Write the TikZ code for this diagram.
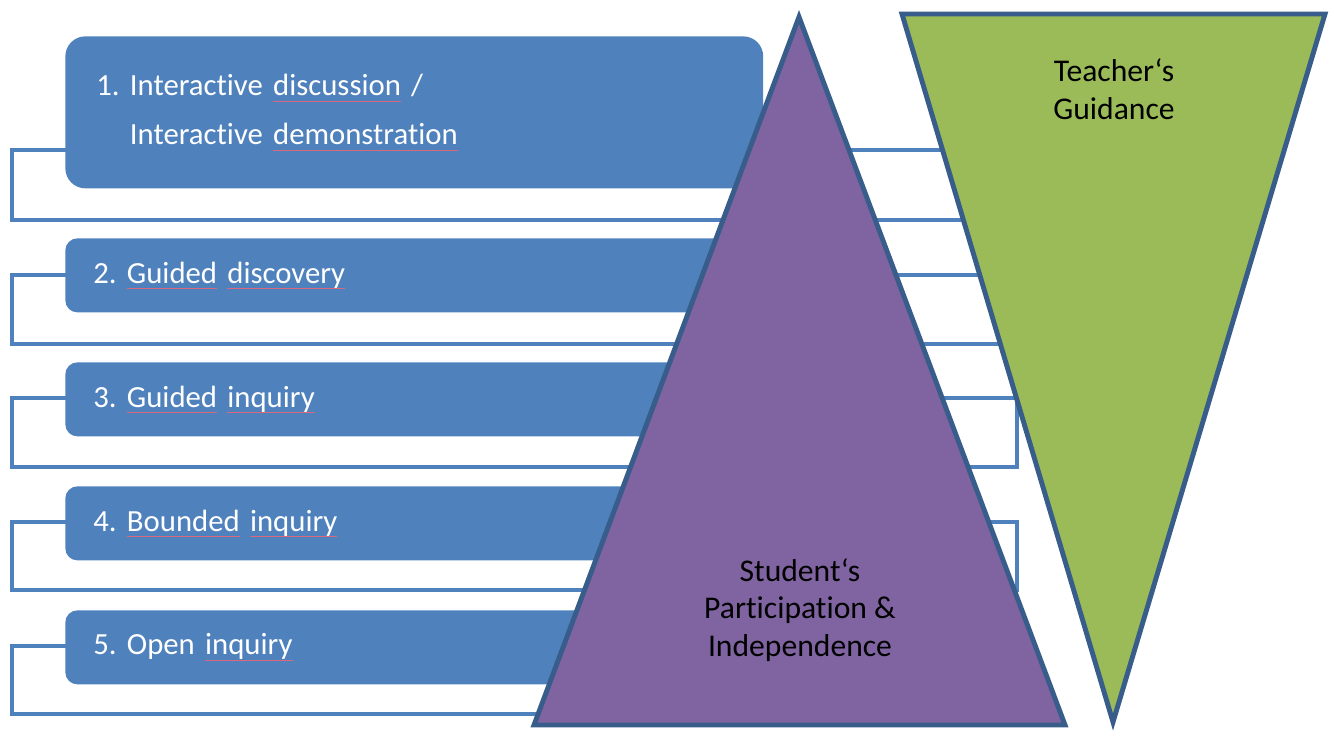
\documentclass[tikz,border=0pt]{standalone}
\usepackage{fontspec}
\setmainfont{Carlito}[Ligatures=NoCommon]
\frenchspacing

\definecolor{boxblue}{HTML}{4F81BD}
\definecolor{edgeblue}{HTML}{385D8A}
\definecolor{studentpurple}{HTML}{8064A2}
\definecolor{teachergreen}{HTML}{9BBB59}
\definecolor{typored}{HTML}{D9687F}

% red squiggle of the spell checker under a word
\newcommand{\typo}[1]{\setbox0=\hbox{#1}\rlap{\textcolor{typored}{\rule[-3.4pt]{\wd0}{0.5pt}}}\box0\relax}

\tikzset{
    level/.style={fill=boxblue, rounded corners=0.24cm, text=white, anchor=north west,
        minimum width=13.96cm, minimum height=1.48cm, text width=12.84cm,
        inner xsep=0.56cm, align=left, font=\fontsize{17.5}{27.8}\selectfont},
    frame/.style={draw=boxblue, line width=2.3pt},
    wedge/.style={draw=edgeblue, line width=2.8pt},
    wedgetext/.style={align=center, font=\fontsize{18}{21.5}\selectfont}
}

\begin{document}
\begin{tikzpicture}[x=0.02cm, y=-0.02cm]
    \useasboundingbox (0,0) rectangle (1336,734);

    % Frames behind the levels
    \foreach \t/\b in {150/220, 275/344, 398/467, 522/590, 646/714} {
        \draw[frame] (12,\t) rectangle (1017,\b);
    }

    % Levels
    \node[level, rounded corners=0.4cm, minimum height=3.04cm, inner xsep=0.62cm, text width=12.72cm] (l1) at (65,36)
        {1. Interactive \typo{discussion} /\\\phantom{1.\ }Interactive \typo{demonstration}};
    \node[level] (l2) at (65,238) {2. \typo{Guided} \typo{discovery}};
    \node[level] (l3) at (65,362) {3. \typo{Guided} \typo{inquiry}};
    \node[level] (l4) at (65,486) {4. \typo{Bounded} \typo{inquiry}};
    \node[level] (l5) at (65,610) {5. Open \typo{inquiry}};

    % Triangles
    \draw[wedge, fill=studentpurple] (799,17) -- (1065,725) -- (534,725) -- cycle;
    \draw[wedge, fill=teachergreen] (902,14) -- (1325,14) -- (1113,722) -- cycle;

    \node[wedgetext] (student) at (800,610) {Student‘s\\Participation \&\\Independence};
    \node[wedgetext] (teacher) at (1114,89) {Teacher‘s\\Guidance};
\end{tikzpicture}
\end{document}
